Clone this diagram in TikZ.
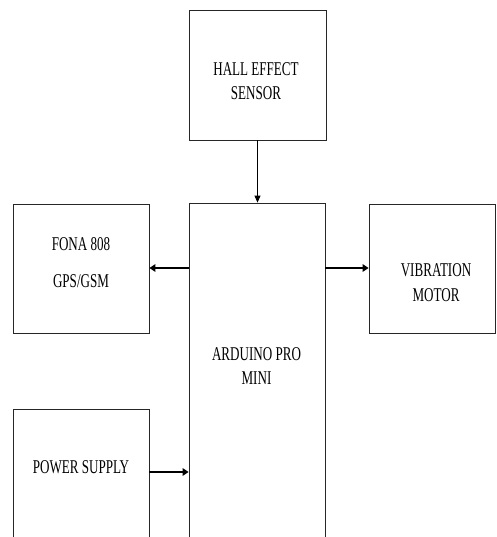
\documentclass[tikz,border=0pt]{standalone}
\usepackage{fontspec}
\setmainfont{Liberation Serif}[FakeStretch=0.67]
\usetikzlibrary{arrows.meta}
\begin{document}
\begin{tikzpicture}[x=1pt,y=-1pt,
  blockbox/.style={draw=black!85, line width=0.8pt, inner sep=0pt},
  lbl/.style={align=center, inner sep=0pt, font=\fontsize{19.5}{24.5}\selectfont},
  thinarrow/.style={line width=0.9pt, -{Triangle[length=7pt,width=6pt]}},
  thickarrow/.style={line width=2pt, -{Triangle[length=6pt,width=7.5pt]}}]
\useasboundingbox (0,0) rectangle (496,537);
\fill[white] (0,0) rectangle (496,537);
\clip (0,0) rectangle (496,537);
% boxes
\node[blockbox, minimum width=137pt, minimum height=130pt] (hall) at (257.5,75) {};
\node[blockbox, minimum width=136pt, minimum height=342pt] (ard) at (257,374) {};
\node[blockbox, minimum width=136pt, minimum height=129pt] (fona) at (81,268.5) {};
\node[blockbox, minimum width=126pt, minimum height=129pt] (vib) at (432,268.5) {};
\node[blockbox, minimum width=136pt, minimum height=136pt] (power) at (81,477) {};
% texts
\node[lbl] (hallt) at (256,81) {HALL EFFECT\\SENSOR};
\node[lbl] (ardt) at (256.5,366) {ARDUINO PRO\\MINI};
\node[lbl, font=\fontsize{19.5}{37}\selectfont] (fonat) at (81,263) {FONA 808\\GPS/GSM};
\node[lbl] (vibt) at (436,282.5) {VIBRATION\\MOTOR};
\node[lbl] (powert) at (81,467.5) {POWER SUPPLY};
% connectors
\draw[thinarrow] (hall.south) -- (hall.south |- ard.north);
\draw[thickarrow] ([yshift=0.5pt]ard.west |- fona.east) -- ([yshift=0.5pt]fona.east);
\draw[thickarrow] ([yshift=0.5pt]ard.east |- vib.west) -- ([yshift=0.5pt]vib.west);
\draw[thickarrow] ([yshift=5pt]power.east) -- ([yshift=5pt]power.east -| ard.west);
\end{tikzpicture}
\end{document}
